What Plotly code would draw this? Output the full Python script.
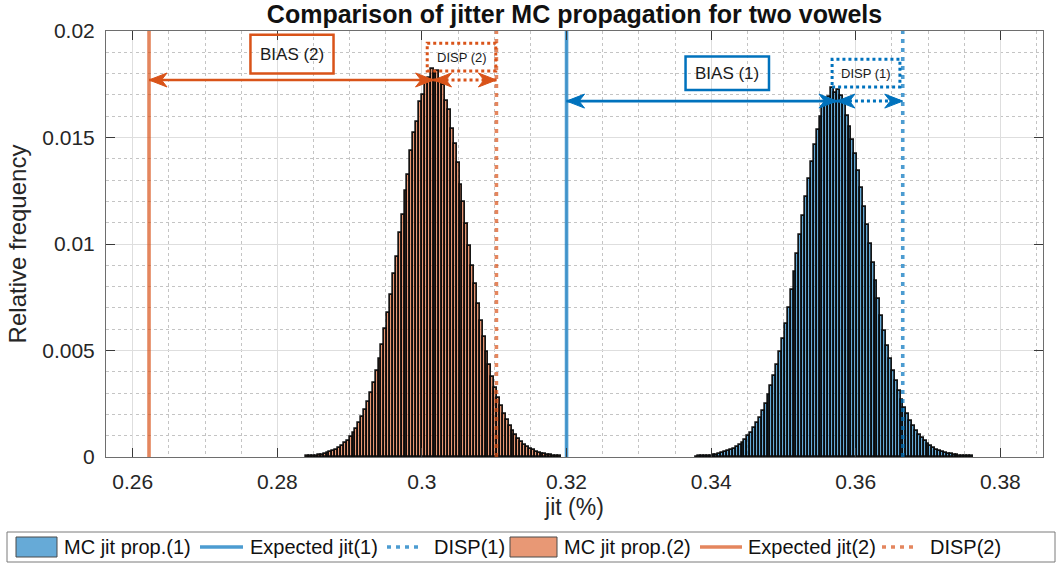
import numpy as np
import plotly.graph_objects as go

# ---------------------------------------------------------------- data
BIN_WIDTH = 0.0004

# vowel 1 (blue) Monte Carlo histogram: first bin centre + relative frequencies
vowel1_first_center = 0.3380
vowel1_freq = [
    0.00002, 0.00003, 0.00004, 0.00005, 0.00006, 0.00007, 0.00009, 0.00011, 0.00014, 0.00017,
    0.00022, 0.00026, 0.00032, 0.00039, 0.00047, 0.00057, 0.00068, 0.00081, 0.00097, 0.00114,
    0.00135, 0.00158, 0.00185, 0.00216, 0.00250, 0.00289, 0.00332, 0.00380, 0.00433, 0.00492,
    0.00556, 0.00625, 0.00701, 0.00782, 0.00867, 0.00955, 0.01043, 0.01132, 0.01219, 0.01303,
    0.01384, 0.01463, 0.01534, 0.01594, 0.01641, 0.01662, 0.01689, 0.01731, 0.01708, 0.01722,
    0.01697, 0.01668, 0.01603, 0.01549, 0.01486, 0.01422, 0.01344, 0.01262, 0.01176, 0.01088,
    0.00999, 0.00911, 0.00824, 0.00741, 0.00662, 0.00590, 0.00523, 0.00462, 0.00406, 0.00355,
    0.00310, 0.00269, 0.00232, 0.00200, 0.00171, 0.00146, 0.00124, 0.00105, 0.00089, 0.00074,
    0.00062, 0.00052, 0.00043, 0.00035, 0.00029, 0.00024, 0.00019, 0.00016, 0.00013, 0.00010,
    0.00008, 0.00007, 0.00005, 0.00004, 0.00003, 0.00003,
]

# vowel 2 (orange) Monte Carlo histogram
vowel2_first_center = 0.2842
vowel2_freq = [
    0.00003, 0.00004, 0.00005, 0.00007, 0.00009, 0.00011, 0.00014, 0.00018, 0.00023, 0.00028,
    0.00035, 0.00043, 0.00052, 0.00064, 0.00077, 0.00093, 0.00112, 0.00133, 0.00158, 0.00187,
    0.00220, 0.00258, 0.00301, 0.00348, 0.00402, 0.00461, 0.00527, 0.00599, 0.00676, 0.00761,
    0.00858, 0.00941, 0.01051, 0.01135, 0.01248, 0.01326, 0.01437, 0.01523, 0.01571, 0.01668,
    0.01698, 0.01771, 0.01779, 0.01821, 0.01796, 0.01813, 0.01760, 0.01747, 0.01671, 0.01631,
    0.01540, 0.01468, 0.01380, 0.01279, 0.01199, 0.01093, 0.00989, 0.00899, 0.00812, 0.00718,
    0.00637, 0.00562, 0.00493, 0.00431, 0.00374, 0.00324, 0.00279, 0.00239, 0.00203, 0.00172,
    0.00145, 0.00122, 0.00102, 0.00085, 0.00070, 0.00058, 0.00047, 0.00039, 0.00031, 0.00025,
    0.00020, 0.00016, 0.00013, 0.00010, 0.00008, 0.00006, 0.00005, 0.00004,
]

# reference values, MC modes and dispersion edges  (index 0 -> vowel 1, 1 -> vowel 2)
expected_jit = [0.3200, 0.26225]
mc_mode = [0.3574, 0.3016]
disp_edge = [0.3665, 0.3103]

x_ticks = [0.26, 0.28, 0.30, 0.32, 0.34, 0.36, 0.38]
x_tick_labels = ["0.26", "0.28", "0.3", "0.32", "0.34", "0.36", "0.38"]
y_ticks = [0, 0.005, 0.01, 0.015, 0.02]
y_tick_labels = ["0", "0.005", "0.01", "0.015", "0.02"]

legend_labels = ["MC jit prop.(1)", "Expected jit(1)", "DISP(1)",
                 "MC jit prop.(2)", "Expected jit(2)", "DISP(2)"]

X_RANGE = [0.2563, 0.3859]
Y_MAX = 0.02

# ---------------------------------------------------------------- styles
FONT = "Liberation Sans, Arial, Helvetica, sans-serif"
BLUE = "#0072BD"
ORANGE = "#D95319"
BLUE_FILL = "rgba(0,114,189,0.6)"
ORANGE_FILL = "rgba(217,83,25,0.6)"
BLUE_LINE = "rgba(0,114,189,0.7)"
ORANGE_LINE = "rgba(217,83,25,0.7)"
DOTS = "4px,5px"
EDGE = "rgba(10,10,10,0.95)"

# plot-area geometry in pixels (for items placed outside the axes)
W, H = 1056, 568
M_L, M_R, M_T, M_B = 106, 13, 31, 111
PLOT_W = W - M_L - M_R
PLOT_H = H - M_T - M_B


def px_x(px):
    return (px - M_L) / PLOT_W


def px_y(py):
    return (H - M_B - py) / PLOT_H


def centers(first, n):
    return first + BIN_WIDTH * np.arange(n)


fig = go.Figure()

series = [
    ("(1)", vowel1_first_center, vowel1_freq, BLUE_FILL, BLUE_LINE, 0),
    ("(2)", vowel2_first_center, vowel2_freq, ORANGE_FILL, ORANGE_LINE, 1),
]

for tag, first, freq, fill, line_col, i in series:
    fig.add_trace(go.Bar(
        x=centers(first, len(freq)), y=freq, width=BIN_WIDTH,
        name="MC jit prop." + tag, showlegend=False,
        marker=dict(color=fill, line=dict(color=EDGE, width=1.7)),
    ))
    fig.add_trace(go.Scatter(
        x=[expected_jit[i], expected_jit[i]], y=[0, Y_MAX], mode="lines",
        name="Expected jit" + tag, showlegend=False,
        line=dict(color=line_col, width=3.6),
    ))
    fig.add_trace(go.Scatter(
        x=[disp_edge[i], disp_edge[i]], y=[0, Y_MAX], mode="lines",
        name="DISP" + tag, showlegend=False,
        line=dict(color=line_col, width=3.6, dash=DOTS),
    ))

# ---------------------------------------------------------------- bias / dispersion markers
HEAD = "M0,0 L-18,-7 L-12.5,0 L-18,7 Z"
HEAD_LEFT = "M0,0 L18,-7 L12.5,0 L18,7 Z"


def arrow_head(x, y, direction, color):
    fig.add_shape(
        type="path", xref="x", yref="y", xsizemode="pixel", ysizemode="pixel",
        xanchor=x, yanchor=y, path=HEAD if direction > 0 else HEAD_LEFT,
        fillcolor=color, line=dict(color=color, width=1), layer="above",
    )


def boxed_label(text, x0, x1, y0, y1, color, size, dotted):
    fig.add_shape(
        type="rect", xref="x", yref="y", x0=x0, x1=x1, y0=y0, y1=y1,
        line=dict(color=color, width=3 if dotted else 2.5, dash="3px,3px" if dotted else "solid"),
        fillcolor="rgba(255,255,255,0)", layer="above",
    )
    fig.add_annotation(
        x=(x0 + x1) / 2, y=(y0 + y1) / 2, xref="x", yref="y", text=text,
        showarrow=False, font=dict(size=size, color="#1a1a1a", family=FONT),
    )


arrow_y = [0.01671, 0.01770]
colors = [BLUE, ORANGE]
for i in range(2):
    c = colors[i]
    y = arrow_y[i]
    # bias: expected value -> MC mode
    fig.add_shape(type="line", xref="x", yref="y", x0=expected_jit[i], x1=mc_mode[i],
                  y0=y, y1=y, line=dict(color=c, width=2.6), layer="above")
    arrow_head(expected_jit[i], y, -1, c)
    arrow_head(mc_mode[i], y, 1, c)
    # dispersion: MC mode -> dispersion edge
    fig.add_shape(type="line", xref="x", yref="y", x0=mc_mode[i], x1=disp_edge[i],
                  y0=y, y1=y, line=dict(color=c, width=3, dash="3px,3px"), layer="above")
    arrow_head(mc_mode[i], y, -1, c)
    arrow_head(disp_edge[i], y, 1, c)

boxed_label("BIAS (2)", 0.27628, 0.28777, 0.01801, 0.01982, ORANGE, 17, False)
boxed_label("DISP (2)", 0.30073, 0.31021, 0.01812, 0.01943, ORANGE, 13, True)
boxed_label("BIAS (1)", 0.33646, 0.34800, 0.01723, 0.01880, BLUE, 17, False)
boxed_label("DISP (1)", 0.35673, 0.36611, 0.01737, 0.01867, BLUE, 13, True)

# ---------------------------------------------------------------- legend strip under the axes
LEG_TOP, LEG_BOT = 532, 562
LEG_MID = (LEG_TOP + LEG_BOT) / 2
fig.add_shape(type="rect", xref="paper", yref="paper",
              x0=px_x(7), x1=px_x(1055), y0=px_y(LEG_BOT), y1=px_y(LEG_TOP),
              line=dict(color="#7a7a7a", width=1), fillcolor="white", layer="above")

# (kind, colour, symbol start px, symbol end px, text start px)
legend_items = [
    ("patch", BLUE_FILL, 16, 57, 62),
    ("line", BLUE_LINE, 200, 243, 248),
    ("dots", BLUE_LINE, 387, 423, 432),
    ("patch", ORANGE_FILL, 510, 557, 562),
    ("line", ORANGE_LINE, 700, 742, 746),
    ("dots", ORANGE_LINE, 882, 918, 928),
]
for label, (kind, col, s0, s1, t0) in zip(legend_labels, legend_items):
    if kind == "patch":
        fig.add_shape(type="rect", xref="paper", yref="paper",
                      x0=px_x(s0), x1=px_x(s1), y0=px_y(LEG_MID + 10), y1=px_y(LEG_MID - 10),
                      line=dict(color="#4a4a4a", width=1), fillcolor=col, layer="above")
    else:
        fig.add_shape(type="line", xref="paper", yref="paper",
                      x0=px_x(s0), x1=px_x(s1), y0=px_y(LEG_MID), y1=px_y(LEG_MID),
                      line=dict(color=col, width=3.6, dash=DOTS if kind == "dots" else "solid"),
                      layer="above")
    fig.add_annotation(x=px_x(t0), y=px_y(LEG_MID), xref="paper", yref="paper",
                       xanchor="left", yanchor="middle", text=label, showarrow=False,
                       font=dict(size=20, color="#111111", family=FONT))

# ---------------------------------------------------------------- axes / layout
axis_common = dict(
    showgrid=True, gridcolor="#dedede", gridwidth=1,
    ticks="inside", ticklen=9, tickcolor="#3a3a3a", tickwidth=1,
    showline=True, linecolor="#6e6e6e", linewidth=1, mirror="ticks",
    zeroline=False, tickfont=dict(size=21, color="#262626", family=FONT),
)

fig.update_xaxes(
    range=X_RANGE, tickmode="array", tickvals=x_ticks, ticktext=x_tick_labels,
    minor=dict(dtick=0.005, tick0=0.26, showgrid=True, gridcolor="#c4c4c4",
               griddash="dot", gridwidth=1, ticks=""),
    title=dict(text="jit (%)", font=dict(size=23, color="#262626", family=FONT), standoff=6),
    ticklabelstandoff=6,
    **axis_common,
)
fig.update_yaxes(
    range=[0, Y_MAX], tickmode="array", tickvals=y_ticks, ticktext=y_tick_labels,
    minor=dict(dtick=0.001, tick0=0, showgrid=True, gridcolor="#c4c4c4",
               griddash="dot", gridwidth=1, ticks=""),
    title=dict(text="Relative frequency", font=dict(size=24, color="#262626", family=FONT), standoff=8),
    ticklabelstandoff=6,
    **axis_common,
)

fig.update_layout(
    width=W, height=H,
    margin=dict(l=M_L, r=M_R, t=M_T, b=M_B),
    paper_bgcolor="white", plot_bgcolor="white",
    barmode="overlay", bargap=0,
    font=dict(family=FONT, color="#262626"),
    title=dict(text="<b>Comparison of jitter MC propagation for two vowels</b>",
               x=0.5, xref="paper", xanchor="center",
               y=1 - 14 / H, yref="container", yanchor="middle",
               font=dict(size=25, color="#111111", family=FONT)),
    showlegend=False,
)

fig.write_html("out.html")
